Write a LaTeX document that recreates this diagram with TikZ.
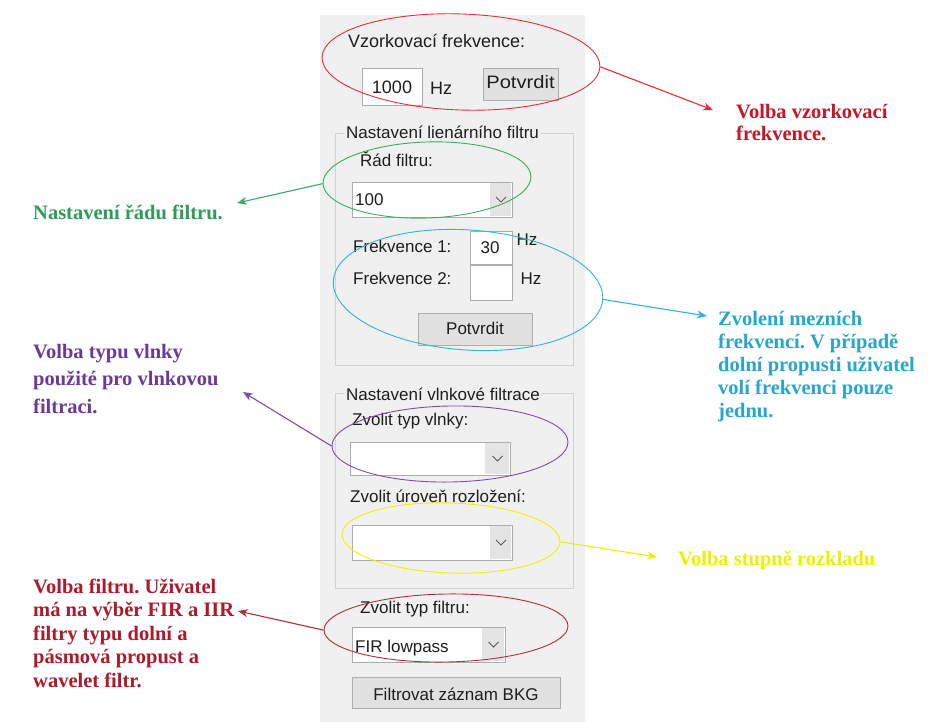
\documentclass[tikz,border=0pt]{standalone}
\usepackage{fontspec}
\usetikzlibrary{shapes.geometric,arrows.meta}
\newfontfamily\uifont{Liberation Sans}
\newfontfamily\notefont{Liberation Serif}
\frenchspacing

\definecolor{panelbg}{RGB}{240,240,240}
\definecolor{fieldline}{RGB}{171,173,179}
\definecolor{btnfill}{RGB}{225,225,225}
\definecolor{btnline}{RGB}{173,173,173}
\definecolor{grpline}{RGB}{210,210,210}
\definecolor{ddfill}{RGB}{228,228,228}
\definecolor{uitextc}{RGB}{30,30,30}
\definecolor{chevc}{RGB}{90,90,90}
\definecolor{redT}{RGB}{200,22,40}
\definecolor{redRing}{RGB}{224,48,60}
\definecolor{greenT}{RGB}{46,155,88}
\definecolor{greenRing}{RGB}{60,170,105}
\definecolor{cyanT}{RGB}{40,166,204}
\definecolor{cyanRing}{RGB}{50,180,212}
\definecolor{purpleT}{RGB}{106,58,150}
\definecolor{purpleRing}{RGB}{125,80,168}
\definecolor{yellowT}{RGB}{238,240,0}
\definecolor{darkredT}{RGB}{172,26,44}
\definecolor{darkredRing}{RGB}{168,50,62}

% combo box: #1,#2 top-left, #3,#4 bottom-right, #5 left edge of the arrow button
\newcommand\dropbox[5]{%
  \draw[fieldline, fill=white] (#1,#2) rectangle (#3,#4);
  \fill[ddfill] (#5,#2+1) rectangle (#3-1,#4-1);
  \draw[chevc, line width=0.8pt]
    ({(#5+#3)/2-5},{(#2+#4)/2-2.5}) -- ({(#5+#3)/2},{(#2+#4)/2+2.5}) -- ({(#5+#3)/2+5},{(#2+#4)/2-2.5});
}

\begin{document}
\begin{tikzpicture}[x=1pt, y=-1pt,
  ui/.style={font=\uifont\fontsize{17}{20}\selectfont, text=uitextc, inner sep=0pt, anchor=base west},
  uitop/.style={ui, font=\uifont\fontsize{18}{21}\selectfont},
  ring/.style={draw, ellipse, inner sep=0pt, line width=0.9pt},
  callout/.style={line width=1.1pt, -{Stealth[length=10pt,width=8pt]}},
  note/.style={inner sep=0pt, anchor=base west},
  notefont/.style={font=\notefont\bfseries\fontsize{20.5}{#1}\selectfont},
]
\useasboundingbox (0,0) rectangle (929,722);
\fill[white] (0,0) rectangle (929,722);
\fill[panelbg] (320,15) rectangle (585,722);

% sampling frequency
\node[uitop] (tRate) at (348,48) {Vzorkovací frekvence:};
\draw[fieldline, fill=white] (362,68) rectangle (422,105);
\node[uitop, anchor=base] (v1000) at (392,94) {1000};
\node[uitop, anchor=base] (hzRate) at (441,95) {Hz};
\draw[btnline, fill=btnfill] (483,68) rectangle (558,100);
\node[uitop, anchor=base] (okRate) at (520.5,89) {\scalebox{1.12}[1]{Potvrdit}};

% linear filter group
\draw[grpline] (335,133) rectangle (573,365);
\node[ui, fill=panelbg, inner xsep=2pt] (gLin) at (344,139) {Nastavení lienárního filtru};
\node[ui] (tOrder) at (360,167) {Řád filtru:};
\dropbox{352}{182}{512}{217}{490}
\node[ui] (v100) at (355,206) {100};
\node[ui] (tF1) at (353,252) {Frekvence 1:};
\draw[fieldline, fill=white] (470,231) rectangle (512,264);
\node[ui, anchor=base] (v30) at (490,253) {30};
\node[ui, anchor=base] (hzA) at (527,246) {Hz};
\node[ui] (tF2) at (353,284) {Frekvence 2:};
\draw[fieldline, fill=white] (470,265) rectangle (512,300);
\node[ui, anchor=base] (hzB) at (531,284) {Hz};
\draw[btnline, fill=btnfill] (418,313) rectangle (532,345);
\node[ui, anchor=base] (okLin) at (475,334) {Potvrdit};

% wavelet group
\draw[grpline] (335,393) rectangle (573,588);
\node[ui, fill=panelbg, inner xsep=2pt] (gWav) at (344,400) {Nastavení vlnkové filtrace};
\node[ui] (tWave) at (352,425) {Zvolit typ vlnky:};
\dropbox{350}{442}{510}{475}{485}
\node[ui] (tLevel) at (350,502) {Zvolit úroveň rozložení:};
\dropbox{352}{525}{512}{560}{490}

% filter type and run button
\node[ui] (tType) at (360,613) {Zvolit typ filtru:};
\dropbox{352}{627}{505}{662}{482}
\node[ui] (vFir) at (355,652) {FIR lowpass};
\draw[btnline, fill=btnfill] (352,677) rectangle (560,708);
\node[ui, anchor=base] (run) at (456,700) {Filtrovat záznam BKG};

% highlight rings
\node[ring, draw=redRing, minimum width=278pt, minimum height=96pt, rotate=-2] (eRate) at (461,62) {};
\node[ring, draw=greenRing, minimum width=208pt, minimum height=76pt, rotate=2] (eOrder) at (427,180) {};
\node[ring, draw=cyanRing, minimum width=270pt, minimum height=120pt, rotate=-4] (eFreq) at (468,290) {};
\node[ring, draw=purpleRing, minimum width=236pt, minimum height=76pt, rotate=1] (eWave) at (450,444) {};
\node[ring, draw=yellowT, minimum width=218pt, minimum height=70pt, rotate=-2] (eLevel) at (451,538) {};
\node[ring, draw=darkredRing, minimum width=244pt, minimum height=68pt, rotate=1] (eType) at (446,628) {};

% notes
\node[note, text=redT, notefont=22] (nRate) at (736,119)
  {\begin{tabular}[t]{@{}l@{}}Volba vzorkovací\\frekvence.\end{tabular}};
\node[note, text=greenT, notefont=23] (nOrder) at (33,219) {Nastavení řádu filtru.};
\node[note, text=cyanT, notefont=23] (nFreq) at (718,325)
  {\begin{tabular}[t]{@{}l@{}}Zvolení mezních\\frekvencí. V případě\\dolní propusti uživatel\\volí frekvenci pouze\\jednu.\end{tabular}};
\node[note, text=purpleT, notefont=27.5] (nWave) at (33,358)
  {\begin{tabular}[t]{@{}l@{}}Volba typu vlnky\\použité pro vlnkovou\\filtraci.\end{tabular}};
\node[note, text=yellowT, notefont=23] (nLevel) at (678,565) {Volba stupně rozkladu};
\node[note, text=darkredT, notefont=23.5] (nType) at (33,593)
  {\begin{tabular}[t]{@{}l@{}}Volba filtru. Uživatel\\má na výběr FIR a IIR\\filtry typu dolní a\\pásmová propust a\\wavelet filtr.\end{tabular}};

% arrow tips beside the notes
\coordinate (pRate) at (713,110);
\coordinate (pOrder) at (237,203);
\coordinate (pFreq) at (707,316);
\coordinate (pWave) at (243,392);
\coordinate (pLevel) at (657,557);
\coordinate (pType) at (238,611);

\draw[callout, redRing] (eRate.east) -- (pRate);
\draw[callout, greenRing] (eOrder.west) -- (pOrder);
\draw[callout, cyanRing] (eFreq.east) -- (pFreq);
\draw[callout, purpleRing] (eWave.west) -- (pWave);
\draw[callout, yellowT] (eLevel.east) -- (pLevel);
\draw[callout, darkredRing] (eType.west) -- (pType);
\end{tikzpicture}
\end{document}
